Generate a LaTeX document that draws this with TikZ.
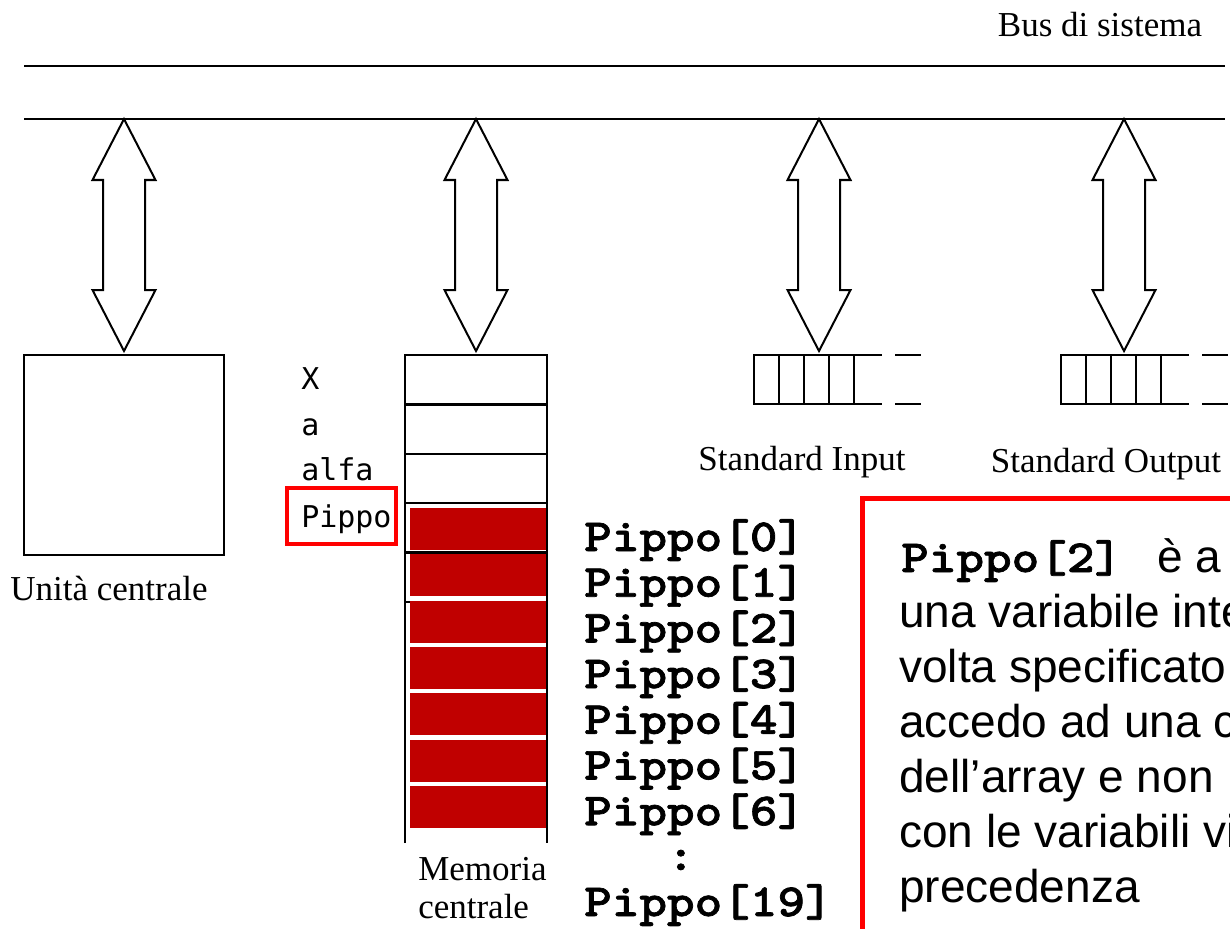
\documentclass[tikz,border=0pt]{standalone}
\usepackage{fontspec}
\setmainfont{Liberation Serif}
\newfontfamily\arialfont{Liberation Sans}
\newfontfamily\varfont{DejaVu Sans Mono}
\newfontfamily\codefont{lmmonolt10-bold}[Extension=.otf,FakeStretch=1.143,FakeBold=1.5]
\usetikzlibrary{positioning}
\definecolor{cellred}{RGB}{192,0,0}

\begin{document}
\begin{tikzpicture}[x=1pt,y=-1pt,line width=2.5pt,
  every node/.style={inner sep=0pt},
  lbl/.style={font=\fontsize{35}{38}\selectfont,anchor=base},
  var/.style={font=\varfont\fontsize{30}{36}\selectfont,anchor=base west},
  code/.style={font=\codefont\fontsize{46}{46}\selectfont,anchor=base west},
  note/.style={font=\arialfont\fontsize{46}{55}\selectfont,anchor=base west},
  busarrow/.pic={
    \draw[line width=2pt,fill=white] (0,0) -- (31.5,61) -- (21,61) -- (21,171)
      -- (31.5,171) -- (0,232) -- (-31.5,171) -- (-21,171) -- (-21,61)
      -- (-31.5,61) -- cycle;},
  buffer/.pic={
    \draw (0,0) rectangle (100,49);
    \foreach \k in {1,2,3} \draw (25*\k,0) -- (25*\k,49);
    \draw (100,0) -- (128,0) (100,49) -- (128,49);
    \draw (141,0) -- (167,0) (141,49) -- (167,49);}]
\useasboundingbox (0,0) rectangle (1230,928);
\clip (0,0) rectangle (1230,928);

% bus
\draw (24,66) -- (1225,66);
\draw (24,119) coordinate (busL) -- (1225,119) coordinate (busR);
\node[lbl] (busname) at (1100,37) {Bus di sistema};

% unita' centrale
\node[draw,minimum width=200,minimum height=200] (cpu) at (124,455) {};
\node[lbl] (cpulbl) at (109,600) {Unità centrale};

% memoria
\coordinate (memtop) at (476,355);
\foreach \i in {1,...,5}
  \draw (405,355+49.4*\i) -- (547,355+49.4*\i);
\foreach \i in {0,...,6}
  \fill[cellred] (410,508+46.3*\i) rectangle (546,550+46.3*\i);
\draw (405,843) -- (405,355) -- (547,355) -- (547,843);
\node[lbl,anchor=base west] (memlbl) at (417,880) {Memoria};
\node[lbl,anchor=base west] (memlbl2) at (417,918) {centrale};

% variabili
\node[var] (vx) at (300,389) {X};
\node[var] (va) at (300,435) {a};
\node[var] (valfa) at (300,480) {alfa};
\node[var] (vpippo) at (300,527) {Pippo};
\draw[red,line width=4pt] (287,488) rectangle (396,544);

\foreach \n [count=\i from 0] in {0,...,6}
  \node[code] (p\n) at (583,551+45.7*\i) {Pippo[\n]};
\node[code] (pdots) at (583,870) {\ \ \ :};
\node[code] (p19) at (583,916) {Pippo[19]};

% standard input / output
\pic (inbuf) at (754,355) {buffer};
\pic (outbuf) at (1061,355) {buffer};
\coordinate (intop) at (819,355);
\coordinate (outtop) at (1124,355);
\node[lbl] (inlbl) at (802,470) {Standard Input};
\node[lbl] (outlbl) at (1106,472) {Standard Output};

% frecce sul bus
\pic (acpu) at (cpu.north |- busL) {busarrow};
\pic (amem) at (memtop |- busL) {busarrow};
\pic (ain) at (intop |- busL) {busarrow};
\pic (aout) at (outtop |- busL) {busarrow};

% nota
\draw[red,line width=5pt] (862,498) rectangle (1260,960);
\node[note] (n1) at (900,572) {{\codefont Pippo[2] }\,è a};
\foreach \t [count=\i] in {una variabile intera,volta specificato,accedo ad una cella,
  dell’array e non,con le variabili viste,precedenza}
  \node[note] (n\the\numexpr\i+1\relax) at (898,572+55*\i) {\t};
\end{tikzpicture}
\end{document}
